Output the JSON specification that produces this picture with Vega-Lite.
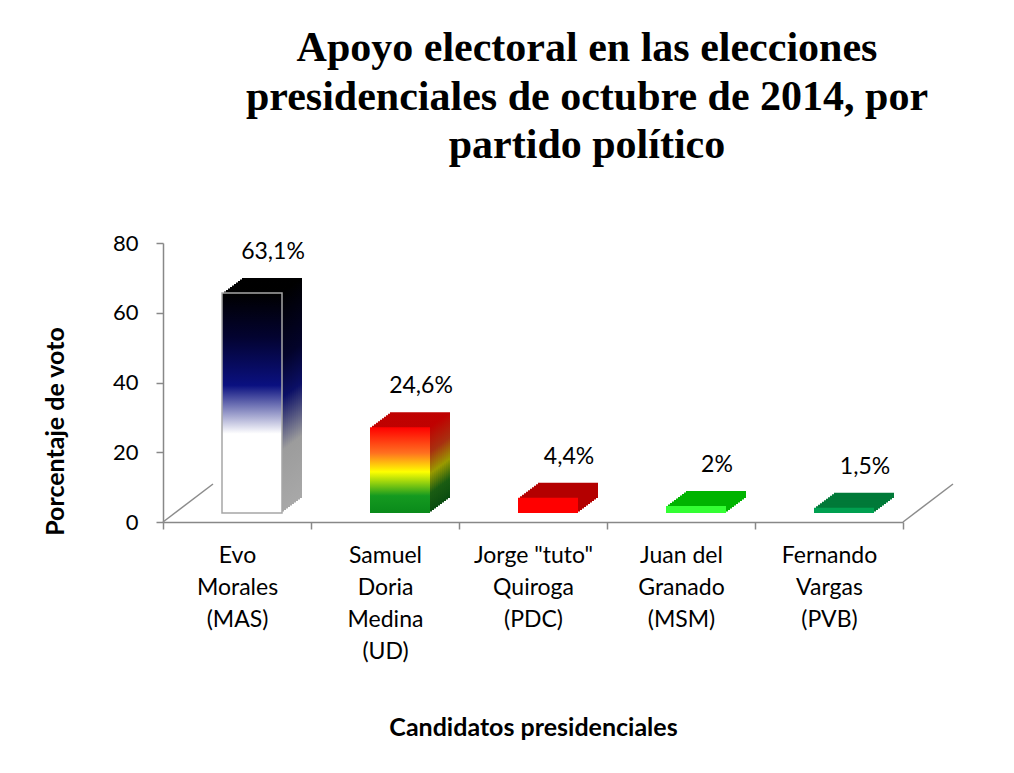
{
  "$schema": "https://vega.github.io/schema/vega-lite/v6.json",
  "width": 740,
  "height": 279,
  "autosize": "none",
  "padding": {"left": 163, "top": 243, "right": 111, "bottom": 251},
  "background": "white",
  "title": {
    "text": ["Apoyo electoral en las elecciones", "presidenciales de octubre de 2014, por", "partido político"],
    "font": "Liberation Serif",
    "fontSize": 42,
    "fontWeight": "bold",
    "lineHeight": 48.5,
    "anchor": "middle",
    "frame": "group",
    "dx": 54,
    "offset": 65,
    "color": "#000000"
  },
  "data": {
    "values": [
      {"candidato": "Evo\nMorales\n(MAS)", "partido": "MAS", "voto": 63.1, "etiqueta": "63,1%"},
      {"candidato": "Samuel\nDoria\nMedina\n(UD)", "partido": "UD", "voto": 24.6, "etiqueta": "24,6%"},
      {"candidato": "Jorge \"tuto\"\nQuiroga\n(PDC)", "partido": "PDC", "voto": 4.4, "etiqueta": "4,4%"},
      {"candidato": "Juan del\nGranado\n(MSM)", "partido": "MSM", "voto": 2, "etiqueta": "2%"},
      {"candidato": "Fernando\nVargas\n(PVB)", "partido": "PVB", "voto": 1.5, "etiqueta": "1,5%"}
    ]
  },
  "encoding": {
    "x": {
      "field": "candidato",
      "type": "nominal",
      "sort": null,
      "title": "Candidatos presidenciales",
      "scale": {"paddingInner": 0, "paddingOuter": 0},
      "axis": {"labelExpr": "split(datum.label, '\\n')", "labelAngle": 0}
    },
    "y": {
      "field": "voto",
      "type": "quantitative",
      "title": "Porcentaje de voto",
      "scale": {"domain": [0, 80]},
      "axis": {"values": [0, 20, 40, 60, 80]}
    }
  },
  "layer": [
    {
      "encoding": {
        "fill": {
          "condition": [
            {"test": "datum.partido === 'MAS'", "value": {"gradient": "linear", "x1": 0, "y1": 0, "x2": 0, "y2": 1, "stops": [{"offset": 0, "color": "#000000"}, {"offset": 0.3, "color": "#03032a"}, {"offset": 0.48, "color": "#0b0f66"}, {"offset": 0.72, "color": "#9c9c9c"}, {"offset": 1, "color": "#a8a8a8"}]}},
            {"test": "datum.partido === 'UD'", "value": {"gradient": "linear", "x1": 0, "y1": 0, "x2": 0, "y2": 1, "stops": [{"offset": 0, "color": "#c00000"}, {"offset": 0.3, "color": "#a83010"}, {"offset": 0.55, "color": "#9a9a00"}, {"offset": 0.78, "color": "#1a5c12"}, {"offset": 1, "color": "#0a4c10"}]}},
            {"test": "datum.partido === 'PDC'", "value": "#b40000"},
            {"test": "datum.partido === 'MSM'", "value": "#00b400"}
          ],
          "value": "#007a38"
        }
      },
      "layer": [
        {"mark": {"type": "bar", "size": 60, "xOffset": 35, "yOffset": -24, "y2Offset": -24}},
        {"mark": {"type": "bar", "size": 60, "xOffset": 33, "yOffset": -22.5, "y2Offset": -22.5}},
        {"mark": {"type": "bar", "size": 60, "xOffset": 31, "yOffset": -21, "y2Offset": -21}},
        {"mark": {"type": "bar", "size": 60, "xOffset": 29, "yOffset": -19.5, "y2Offset": -19.5}},
        {"mark": {"type": "bar", "size": 60, "xOffset": 27, "yOffset": -18, "y2Offset": -18}},
        {"mark": {"type": "bar", "size": 60, "xOffset": 25, "yOffset": -16.5, "y2Offset": -16.5}},
        {"mark": {"type": "bar", "size": 60, "xOffset": 23, "yOffset": -15, "y2Offset": -15}},
        {"mark": {"type": "bar", "size": 60, "xOffset": 21, "yOffset": -13.5, "y2Offset": -13.5}},
        {"mark": {"type": "bar", "size": 60, "xOffset": 19, "yOffset": -12, "y2Offset": -12}},
        {"mark": {"type": "bar", "size": 60, "xOffset": 17, "yOffset": -10.5, "y2Offset": -10.5}}
      ]
    },
    {
      "mark": {"type": "bar", "size": 60, "xOffset": 15, "yOffset": -9, "y2Offset": -9, "strokeWidth": 1.5},
      "encoding": {
        "fill": {
          "condition": [
            {"test": "datum.partido === 'MAS'", "value": {"gradient": "linear", "x1": 0, "y1": 0, "x2": 0, "y2": 1, "stops": [{"offset": 0, "color": "#000000"}, {"offset": 0.2, "color": "#030330"}, {"offset": 0.42, "color": "#0a1080"}, {"offset": 0.64, "color": "#ffffff"}, {"offset": 1, "color": "#ffffff"}]}},
            {"test": "datum.partido === 'UD'", "value": {"gradient": "linear", "x1": 0, "y1": 0, "x2": 0, "y2": 1, "stops": [{"offset": 0, "color": "#ff0000"}, {"offset": 0.3, "color": "#ff7020"}, {"offset": 0.52, "color": "#ffff00"}, {"offset": 0.8, "color": "#149a20"}, {"offset": 1, "color": "#0a8a1a"}]}},
            {"test": "datum.partido === 'PDC'", "value": "#ff0000"},
            {"test": "datum.partido === 'MSM'", "value": "#33ff33"}
          ],
          "value": "#00a050"
        },
        "stroke": {
          "condition": {"test": "datum.partido === 'MAS'", "value": "#a6a6a6"},
          "value": null
        }
      }
    },
    {
      "mark": {"type": "text", "font": "Lato", "fontSize": 23, "dx": 36, "dy": -43, "baseline": "alphabetic", "align": "center", "color": "#000000"},
      "encoding": {
        "text": {"field": "etiqueta"}
      }
    },
    {
      "transform": [{"filter": "datum.partido === 'MAS'"}],
      "mark": {"type": "rule", "color": "#8c8c8c", "strokeWidth": 1.5, "x2Offset": 50, "y2Offset": -38},
      "encoding": {
        "x": {
          "field": "candidato",
          "type": "nominal",
          "sort": null,
          "title": "Candidatos presidenciales",
          "bandPosition": 0,
          "scale": {"paddingInner": 0, "paddingOuter": 0},
          "axis": {"labelExpr": "split(datum.label, '\\n')", "labelAngle": 0}
        },
        "x2": {"field": "candidato", "bandPosition": 0},
        "y": {"datum": 0, "type": "quantitative", "title": "Porcentaje de voto", "scale": {"domain": [0, 80]}, "axis": {"values": [0, 20, 40, 60, 80]}},
        "y2": {"datum": 0}
      }
    },
    {
      "transform": [{"filter": "datum.partido === 'PVB'"}],
      "mark": {"type": "rule", "color": "#8c8c8c", "strokeWidth": 1.5, "x2Offset": 50, "y2Offset": -38},
      "encoding": {
        "x": {
          "field": "candidato",
          "type": "nominal",
          "sort": null,
          "title": "Candidatos presidenciales",
          "bandPosition": 1,
          "scale": {"paddingInner": 0, "paddingOuter": 0},
          "axis": {"labelExpr": "split(datum.label, '\\n')", "labelAngle": 0}
        },
        "x2": {"field": "candidato", "bandPosition": 1},
        "y": {"datum": 0, "type": "quantitative", "title": "Porcentaje de voto", "scale": {"domain": [0, 80]}, "axis": {"values": [0, 20, 40, 60, 80]}},
        "y2": {"datum": 0}
      }
    }
  ],
  "config": {
    "view": {"stroke": null},
    "axis": {
      "domainColor": "#888888",
      "domainWidth": 1.5,
      "tickColor": "#888888",
      "tickWidth": 1.5,
      "tickSize": 7,
      "grid": false,
      "labelFont": "Lato",
      "labelFontSize": 22,
      "labelColor": "#000000",
      "titleFont": "Lato",
      "titleFontWeight": "bold",
      "titleFontSize": 25,
      "titleColor": "#000000"
    },
    "axisX": {
      "tickBand": "extent",
      "labelFontSize": 23,
      "labelPadding": 15,
      "labelLineHeight": 32,
      "labelBaseline": "top",
      "titlePadding": 52
    },
    "axisY": {
      "labelPadding": 18,
      "titleX": -108,
      "titleY": 188,
      "titleAlign": "center",
      "titleBaseline": "middle",
      "titleAngle": -90
    }
  }
}
